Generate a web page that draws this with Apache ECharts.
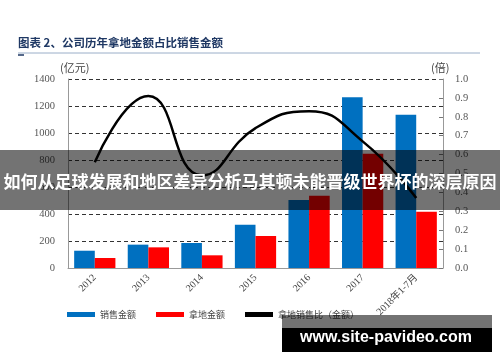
<!DOCTYPE html>
<html><head><meta charset="utf-8">
<script src="https://cdn.jsdelivr.net/npm/echarts@6/dist/echarts.min.js"></script>
<style>html,body{margin:0;padding:0;background:#fff}#c{width:500px;height:362px}</style>
</head><body><div id="c"></div>
<script>
var categories = ['2012','2013','2014','2015','2016','2017','2018年1-7月'];
var salesAmount = [128, 173, 185, 321, 503, 1264, 1136];
var landAmount = [74, 153, 94, 237, 536, 847, 417];
var landSalesRatio = [0.56, 0.91, 0.49, 0.74, 0.83, 0.67, 0.37];
var leftTicks = {min: 0, max: 1400, interval: 200};
var rightTicks = {min: 0, max: 1, interval: 0.1};

var chart = echarts.init(document.getElementById('c'), null, {renderer: 'canvas'});
var serif = 'Liberation Serif, Noto Sans CJK SC, serif';
var cjk = 'Noto Sans CJK SC, sans-serif';
chart.setOption({
  animation: false,
  grid: {left: 68, right: 57, top: 79, bottom: 94, containLabel: false},
  legend: {
    left: 62, top: 305, itemWidth: 28, itemHeight: 5, itemGap: 20,
    textStyle: {fontFamily: cjk, fontSize: 9, color: '#444'},
    data: [
      {name: '销售金额', icon: 'rect'},
      {name: '拿地金额', icon: 'rect'},
      {name: '拿地销售比（金额）', icon: 'rect', itemStyle: {color: '#000'}}
    ]
  },
  xAxis: {
    type: 'category', data: categories,
    axisLine: {lineStyle: {color: '#999', width: 1}},
    axisTick: {show: false},
    axisLabel: {rotate: 45, margin: 8, fontFamily: serif, fontSize: 10, color: '#444', interval: 0}
  },
  yAxis: [
    {
      type: 'value', min: leftTicks.min, max: leftTicks.max, interval: leftTicks.interval,
      axisLine: {show: true, lineStyle: {color: '#999', width: 1}},
      axisTick: {show: false},
      axisLabel: {margin: 13, fontFamily: serif, fontSize: 10.5, color: '#555', formatter: function(v){return String(v);}},
      splitLine: {show: true, lineStyle: {color: '#333', type: [4, 3], width: 1}}
    },
    {
      type: 'value', min: rightTicks.min, max: rightTicks.max, interval: rightTicks.interval,
      axisLine: {show: true, lineStyle: {color: '#999', width: 1}},
      axisTick: {show: true, inside: true, length: 4, lineStyle: {color: '#777'}},
      axisLabel: {margin: 12, fontFamily: serif, fontSize: 10.5, color: '#555', formatter: function(v){return v.toFixed(1);}},
      splitLine: {show: false}
    }
  ],
  series: [
    {name: '销售金额', type: 'bar', data: salesAmount, barGap: '0%', barCategoryGap: '23%', itemStyle: {color: '#0070C0'}},
    {name: '拿地金额', type: 'bar', data: landAmount, barGap: '0%', barCategoryGap: '23%', itemStyle: {color: '#FF0000'}},
    {name: '拿地销售比（金额）', type: 'line', yAxisIndex: 1, data: landSalesRatio, smooth: 0.5, symbol: 'none',
     lineStyle: {color: '#000', width: 2.5}, itemStyle: {color: '#000'}, z: 5}
  ],
  graphic: [
    {type: 'text', left: 18, top: 37, style: {text: '图表 2、公司历年拿地金额占比销售金额', font: 'bold 11.5px Noto Sans CJK SC', fill: '#1f3864'}},
    {type: 'line', shape: {x1: 18, y1: 53, x2: 480, y2: 53}, style: {stroke: '#9aaec8', lineWidth: 1}},
    {type: 'line', shape: {x1: 18, y1: 55, x2: 24, y2: 55}, style: {stroke: '#1f3864', lineWidth: 1.5}},
    {type: 'text', left: 60, top: 62, style: {text: '(亿元)', font: '11px Noto Sans CJK SC', fill: '#444'}},
    {type: 'text', left: 431, top: 62, style: {text: '(倍)', font: '11px Noto Sans CJK SC', fill: '#444'}},
    {type: 'rect', shape: {x: 0, y: 150, width: 500, height: 60}, style: {fill: 'rgba(0,0,0,0.55)'}, z: 100},
    {type: 'text', x: 250, y: 182, z: 101, style: {text: '如何从足球发展和地区差异分析马其顿未能晋级世界杯的深层原因', font: 'bold 17px Noto Sans CJK SC', fill: '#fff', align: 'center', verticalAlign: 'middle'}},
    {type: 'rect', shape: {x: 282, y: 315, width: 210, height: 13}, style: {fill: 'rgba(0,0,0,0.55)'}, z: 100},
    {type: 'rect', shape: {x: 282, y: 328, width: 210, height: 24}, style: {fill: '#000'}, z: 100},
    {type: 'text', x: 386, y: 338, z: 101, style: {text: 'www.site-pavideo.com', font: 'bold 16px "Liberation Sans", sans-serif', fill: '#fff', align: 'center', verticalAlign: 'middle'}}
  ]
});
</script></body></html>
